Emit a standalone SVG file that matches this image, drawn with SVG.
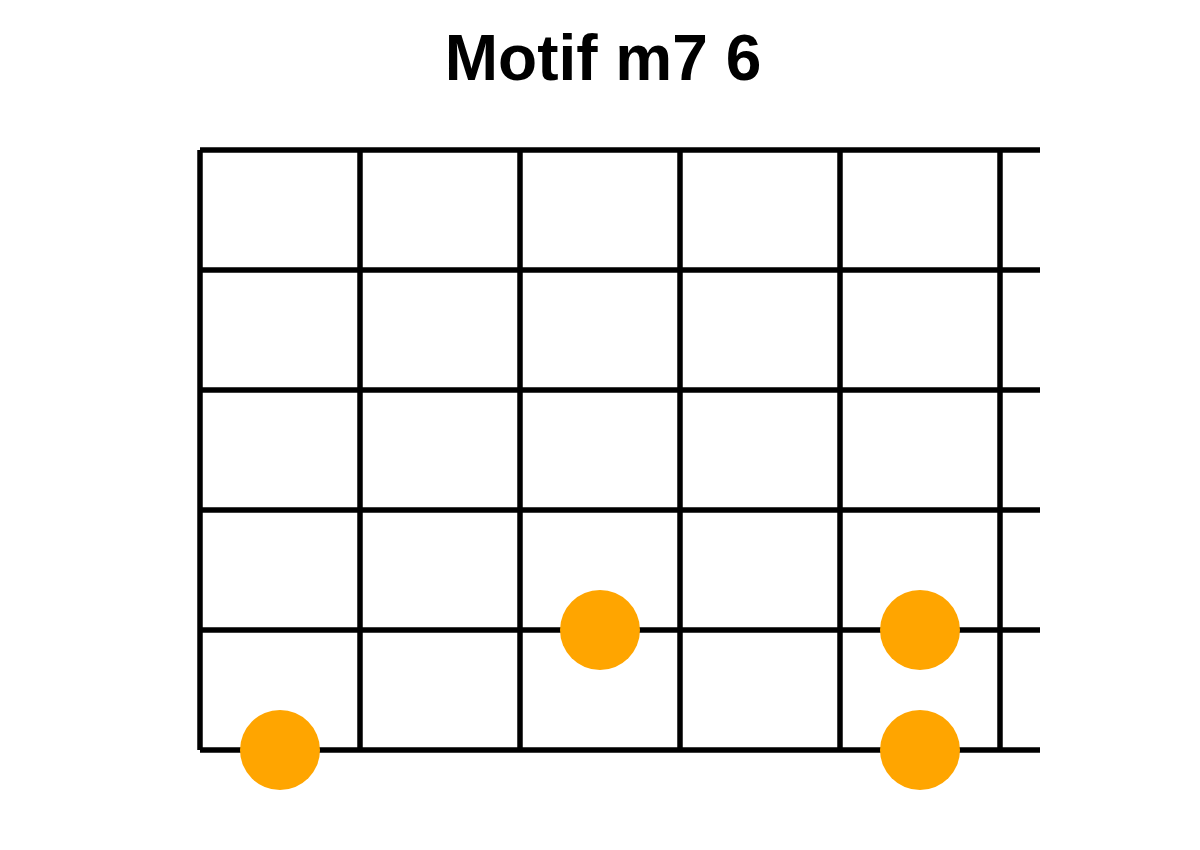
<svg xmlns="http://www.w3.org/2000/svg" width="1200" height="850" viewBox="0 0 1200 850">
<style>
.grid line{stroke:#000;stroke-width:5.5;stroke-linecap:butt}
.dot{fill:#FFA500}
.title{font-family:"Liberation Sans",Arial,sans-serif;font-weight:bold;font-size:64px;fill:#000}
</style>
<rect width="1200" height="850" fill="#fff"/>
<text class="title" x="603" y="80" text-anchor="middle">Motif m7 6</text>
<g id="connectors" class="grid">
<line x1="200" y1="150" x2="1040" y2="150"/>
<line x1="200" y1="270" x2="1040" y2="270"/>
<line x1="200" y1="390" x2="1040" y2="390"/>
<line x1="200" y1="510" x2="1040" y2="510"/>
<line x1="200" y1="630" x2="1040" y2="630"/>
<line x1="200" y1="750" x2="1040" y2="750"/>
<line x1="200" y1="150" x2="200" y2="750"/>
<line x1="360" y1="150" x2="360" y2="750"/>
<line x1="520" y1="150" x2="520" y2="750"/>
<line x1="680" y1="150" x2="680" y2="750"/>
<line x1="840" y1="150" x2="840" y2="750"/>
<line x1="1000" y1="150" x2="1000" y2="750"/>
</g>
<g id="dot1"><circle class="dot" cx="280" cy="750" r="40"/></g>
<g id="dot2"><circle class="dot" cx="600" cy="630" r="40"/></g>
<g id="dot3"><circle class="dot" cx="920" cy="630" r="40"/></g>
<g id="dot4"><circle class="dot" cx="920" cy="750" r="40"/></g>
</svg>
